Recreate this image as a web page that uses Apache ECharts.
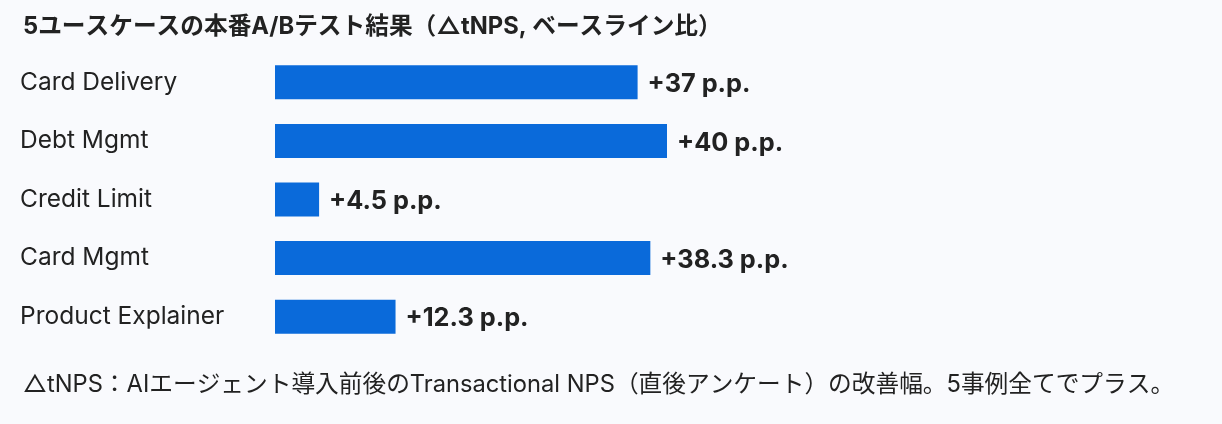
<!DOCTYPE html>
<html>
<head>
<meta charset="utf-8">
<script src="https://cdn.jsdelivr.net/npm/echarts@6/dist/echarts.min.js"></script>
<style>
  html, body { margin: 0; padding: 0; background: #f9fafd; }
  #chart { width: 1222px; height: 424px; }
</style>
</head>
<body>
<div id="chart"></div>
<script>
var categories = ['Card Delivery', 'Debt Mgmt', 'Credit Limit', 'Card Mgmt', 'Product Explainer'];
var values = [37, 40, 4.5, 38.3, 12.3];
var titleText = '5ユースケースの本番A/Bテスト結果（△tNPS, ベースライン比）';
var noteText = '△tNPS：AIエージェント導入前後のTransactional NPS（直後アンケート）の改善幅。5事例全てでプラス。';

var fontFam = 'Inter, "Noto Sans CJK JP", sans-serif';

var option = {
    backgroundColor: '#f9fafd',
    title: [ {
        text: titleText,
        left: 18,
        top: 10,
        textStyle: { fontSize: 23.7, fontWeight: 'bold', color: '#222', fontFamily: fontFam }
    }, {
        text: noteText,
        left: 18,
        top: 368,
        textStyle: { fontSize: 23.7, fontWeight: 'normal', color: '#222', fontFamily: fontFam }
    } ],
    grid: {
        left: 275,
        top: 53,
        width: 784,
        height: 293
    },
    xAxis: {
        type: 'value',
        min: 0,
        max: 80,
        show: false
    },
    yAxis: {
        type: 'category',
        data: categories,
        inverse: true,
        axisLine: { show: false },
        axisTick: { show: false },
        axisLabel: {
            align: 'left',
            margin: 255,
            fontSize: 24.5,
            color: '#222',
            fontFamily: fontFam,
            padding: [0, 0, 13, 0]
        }
    },
    series: [ {
        type: 'bar',
        data: values,
        barWidth: 34,
        itemStyle: { color: '#0a6ada' },
        label: {
            show: true,
            position: 'right',
            distance: 10,
            offset: [0, 2],
            fontSize: 25.3,
            fontWeight: 'bold',
            color: '#222',
            fontFamily: fontFam,
            formatter: function (p) { return '+' + p.value + ' p.p.'; }
        },
        animation: false
    } ]
};
var chart = echarts.init(document.getElementById('chart'));
chart.setOption(option);
</script>
</body>
</html>
